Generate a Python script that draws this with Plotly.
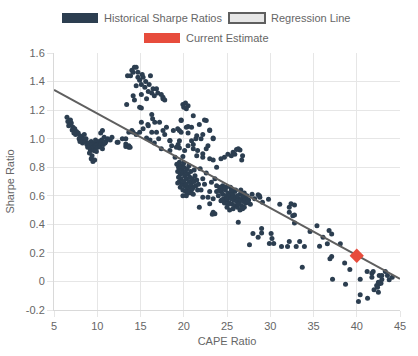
import plotly.graph_objects as go

# ---------------- data ----------------
left_x = [6.5, 6.6, 6.8, 6.7, 7.0, 7.2, 7.1, 7.4, 7.6, 7.5, 7.8, 8.0, 7.9, 8.2, 8.4, 8.3, 8.6, 8.8, 8.7, 8.9,
          9.0, 9.1, 9.2, 9.3, 9.4, 9.5, 9.6, 9.7, 9.8, 9.9, 10.0, 10.1, 10.2, 10.3, 10.4, 10.5, 10.7, 10.8, 11.0, 11.2,
          11.5, 10.4, 8.0, 9.3, 9.5, 9.7, 9.4, 9.1, 10.6, 12.4, 13.3, 13.65, 7.3, 8.5, 9.8, 10.9, 6.9,
          10.6, 11.7, 12.3, 13.3, 13.65, 14.0, 13.3, 13.65, 9.6, 9.8]
left_y = [1.15, 1.12, 1.10, 1.09, 1.11, 1.08, 1.06, 1.07, 1.05, 1.03, 1.04, 1.02, 1.00, 1.01, 0.99, 0.97, 0.98, 0.96, 1.00, 0.94,
          0.97, 0.95, 0.92, 0.98, 0.96, 0.94, 0.93, 0.97, 0.95, 0.91, 0.96, 0.94, 0.98, 0.95, 0.97, 0.99, 0.96, 1.01, 0.98, 1.00,
          0.99, 1.04, 0.98, 0.86, 0.84, 0.85, 0.88, 0.90, 0.93, 0.975, 0.945, 0.94, 1.04, 1.03, 0.99, 0.97, 1.13,
          1.057, 1.01, 0.975, 1.0, 1.045, 1.057, 0.963, 0.95, 0.917, 0.917]

top_x = [14.3, 14.5, 13.5, 13.85, 14.15, 14.7, 15.3, 16.15, 14.5, 15.1, 15.5, 16.45, 16.85, 16.3, 17.4, 17.6, 14.15, 14.3,
         15.1, 15.7, 13.4, 15.1, 17.6, 14.7, 14.9, 15.6, 15.9, 16.6, 17.0, 14.0, 14.9, 17.8, 16.0, 15.2,
         19.9, 20.2, 20.5, 20.3, 20.0, 21.1]
top_y = [1.50, 1.50, 1.44, 1.44, 1.465, 1.43, 1.43, 1.44, 1.37, 1.38, 1.36, 1.35, 1.35, 1.32, 1.31, 1.29, 1.30, 1.27,
         1.31, 1.28, 1.24, 1.215, 1.28, 1.465, 1.41, 1.40, 1.33, 1.30, 1.32, 1.48, 1.22, 1.27, 1.38, 1.45,
         1.24, 1.25, 1.23, 1.21, 1.22, 1.16]

mid_x = [15.1, 15.9, 16.65, 17.2, 15.3, 16.3, 16.85, 17.6, 18.0, 17.8, 18.8, 14.9, 14.15, 14.5, 15.7, 16.1, 13.8, 18.4,
         18.4, 18.6, 19.35, 19.5, 19.0, 19.9, 19.5, 20.1, 15.85, 16.4, 16.3, 12.9, 17.1, 16.6,
         19.5, 19.7, 20.5, 21.8, 22.6, 23.0, 23.4, 21.5, 22.0, 21.1, 21.6, 22.2, 23.0, 22.6, 22.4, 19.7, 19.3, 20.3,
         20.9, 23.0, 19.7, 20.5, 22.2, 23.4, 18.4, 19.5, 20.9, 19.15, 20.5, 21.1, 21.5, 22.2, 23.4, 24.7, 25.1, 25.7,
         26.1, 23.8, 19.85, 25.5, 25.9, 26.5, 26.8, 26.7, 26.3, 24.3, 21.4, 22.8, 17.4]
mid_y = [1.115, 1.09, 1.115, 1.115, 1.07, 1.045, 1.045, 1.057, 1.08, 1.03, 1.057, 1.045, 1.045, 1.03, 1.005, 0.99, 0.94, 0.987,
         0.917, 0.95, 0.96, 0.935, 0.87, 0.875, 0.835, 0.917, 1.10, 1.14, 1.17, 1.00, 1.00, 0.97,
         1.057, 1.127, 1.085, 1.10, 1.127, 1.057, 0.999, 1.02, 0.999, 0.96, 0.917, 0.894, 0.859, 0.929, 1.13, 1.13, 1.07, 1.08,
         1.08, 1.06, 1.045, 1.04, 1.03, 1.005, 0.985, 0.985, 0.985, 0.94, 0.95, 0.93, 0.88, 0.87, 0.85, 0.87, 0.89, 0.905,
         0.925, 0.80, 0.80, 0.88, 0.89, 0.92, 0.88, 0.85, 0.93, 0.86, 1.00, 0.95, 0.93]

clusterA_x = [19.2, 19.4, 19.3, 19.5, 19.6, 19.7, 19.8, 19.9, 20.0, 20.1, 20.2, 20.3, 20.4, 20.5, 20.6, 20.7, 20.8, 20.9,
              21.0, 21.1, 21.2, 21.3, 21.4, 21.5, 21.6, 21.7, 19.5, 19.6, 19.7, 19.8, 19.9, 20.0, 20.1, 20.2, 20.3, 20.4,
              20.5, 20.6, 20.7, 20.8, 20.9, 21.0, 21.1, 19.4, 19.3, 20.0, 20.6, 21.2, 19.9, 20.3]
clusterA_y = [0.82, 0.80, 0.77, 0.79, 0.75, 0.81, 0.78, 0.76, 0.80, 0.74, 0.77, 0.72, 0.79, 0.75, 0.70, 0.73, 0.77, 0.69,
              0.72, 0.66, 0.70, 0.74, 0.67, 0.71, 0.64, 0.68, 0.70, 0.66, 0.72, 0.68, 0.64, 0.70, 0.67, 0.63, 0.68, 0.65,
              0.62, 0.66, 0.63, 0.67, 0.62, 0.65, 0.61, 0.73, 0.69, 0.83, 0.81, 0.78, 0.60, 0.60]

lower_x = [21.8, 22.2, 22.8, 23.0, 23.4, 23.6, 23.4, 24.3, 23.2, 23.8, 22.4, 22.2, 23.6, 24.5, 24.1, 22.0, 22.6, 21.9, 23.0, 23.3]
lower_y = [0.52, 0.59, 0.59, 0.545, 0.485, 0.475, 0.58, 0.565, 0.695, 0.67, 0.68, 0.72, 0.72, 0.67, 0.64, 0.64, 0.76, 0.79, 0.63, 0.47]

clusterB_x = [24.3, 24.5, 24.6, 24.8, 24.9, 25.0, 25.1, 25.2, 25.3, 25.4, 25.5, 25.6, 25.7, 25.8, 25.9, 26.0, 26.1, 26.2,
              26.3, 26.4, 26.5, 26.6, 26.7, 26.8, 26.9, 27.0, 27.1, 27.2, 27.3, 27.5, 27.7, 24.7, 25.0, 25.3, 25.6, 25.9,
              26.2, 26.5, 26.8, 24.4, 24.9, 25.4, 26.0, 26.6, 27.0, 25.1, 25.7, 26.3, 26.9, 25.5, 24.6, 27.4, 23.8, 24.0,
              24.2, 26.3]
clusterB_y = [0.63, 0.61, 0.58, 0.64, 0.60, 0.57, 0.62, 0.59, 0.55, 0.61, 0.58, 0.54, 0.60, 0.57, 0.53, 0.59, 0.56, 0.52,
              0.58, 0.55, 0.61, 0.57, 0.53, 0.59, 0.56, 0.52, 0.58, 0.55, 0.60, 0.57, 0.54, 0.55, 0.52, 0.50, 0.62, 0.63,
              0.60, 0.50, 0.51, 0.57, 0.66, 0.66, 0.64, 0.64, 0.62, 0.54, 0.51, 0.54, 0.60, 0.64, 0.65, 0.56, 0.63, 0.60,
              0.66, 0.415]

right_x = [28.2, 28.75, 29.1, 29.8, 31.1, 32.2, 32.4, 32.8, 32.2, 32.6, 32.8, 32.8, 28.6, 28.8, 27.9,
           28.0, 28.6, 29.0, 29.0, 30.1, 30.2, 29.9, 30.4, 27.6, 31.3, 32.0, 32.2, 33.0, 33.4, 33.95, 34.6, 33.7, 35.4,
           36.8, 37.1, 36.1, 36.6, 38.1, 35.7, 37.1, 36.9, 38.6, 39.2, 37.2, 38.7, 40.4, 40.4, 40.2, 41.25, 42.0, 42.5,
           42.3, 42.6, 41.2, 41.75, 41.9, 41.75, 42.6, 42.9, 43.3, 43.55, 43.75, 44.1, 42.5, 42.8, 42.4, 42.9]
right_y = [0.58, 0.60, 0.555, 0.575, 0.54, 0.52, 0.545, 0.535, 0.485, 0.46, 0.465, 0.41, 0.607, 0.59, 0.61,
           0.335, 0.31, 0.37, 0.34, 0.335, 0.30, 0.265, 0.265, 0.257, 0.245, 0.245, 0.28, 0.245, 0.28, 0.245, 0.35, 0.10, 0.39,
           0.357, 0.333, 0.31, 0.264, 0.264, 0.247, 0.175, 0.159, 0.13, 0.084, 0.016, -0.019, 0.016, -0.093, -0.14, -0.117, -0.058, -0.075,
           -0.028, -0.016, 0.07, 0.058, 0.07, 0.03, 0.042, 0.042, 0.07, 0.042, 0.012, 0.03, -0.005, -0.012, -0.04, 0.014]

hist_cape = left_x + top_x + mid_x + clusterA_x + lower_x + clusterB_x + right_x
hist_sharpe = left_y + top_y + mid_y + clusterA_y + lower_y + clusterB_y + right_y

reg_cape = [5, 45]
reg_sharpe = [1.342, 0.018]

current_cape = [40]
current_sharpe = [0.18]

x_ticks = [5, 10, 15, 20, 25, 30, 35, 40, 45]
y_ticks = [-0.2, 0, 0.2, 0.4, 0.6, 0.8, 1.0, 1.2, 1.4, 1.6]
y_tick_labels = ["-0.2", "0", "0.2", "0.4", "0.6", "0.8", "1.0", "1.2", "1.4", "1.6"]

legend_labels = ["Historical Sharpe Ratios", "Regression Line", "Current Estimate"]

# ---------------- style ----------------
NAVY = "#2c3e50"
RED = "#e74c3c"
LINE = "#5f5f5f"
GRID = "#e6e6e6"
TXT = "#666666"
FONT = "Liberation Sans, Arial, sans-serif"
FS = 11

W, H = 418, 356
L, R, T, B = 54, 18, 53, 46
PW, PH = W - L - R, H - T - B

def px_x(p):
    return (p - L) / PW

def px_y(p):
    return (H - B - p) / PH

fig = go.Figure()
fig.add_trace(go.Scatter(x=hist_cape, y=hist_sharpe, mode="markers",
                         marker=dict(size=5, color=NAVY), name=legend_labels[0],
                         showlegend=False, hoverinfo="x+y"))
fig.add_trace(go.Scatter(x=reg_cape, y=reg_sharpe, mode="lines",
                         line=dict(color=LINE, width=2), name=legend_labels[1],
                         showlegend=False))
fig.add_trace(go.Scatter(x=current_cape, y=current_sharpe, mode="markers",
                         marker=dict(size=11, color=RED, symbol="diamond"), name=legend_labels[2],
                         showlegend=False))

# Chart.js-style legend boxes
shapes = []
annotations = []
legend_items = [
    (62, 13, NAVY, NAVY, 0, legend_labels[0]),
    (229, 13, "#e6e6e6", LINE, 2, legend_labels[1]),
    (144, 33, RED, RED, 0, legend_labels[2]),
]
for bx, by, fill, border, lw, label in legend_items:
    shapes.append(dict(type="rect", xref="paper", yref="paper",
                       x0=px_x(bx), x1=px_x(bx + 36), y0=px_y(by + 10), y1=px_y(by),
                       fillcolor=fill, line=dict(color=border, width=lw)))
    annotations.append(dict(text=label, xref="paper", yref="paper",
                            x=px_x(bx + 40), y=px_y(by + 5), xanchor="left", yanchor="middle",
                            showarrow=False, font=dict(family=FONT, size=FS, color=TXT)))

fig.update_layout(
    width=W, height=H,
    margin=dict(l=L, r=R, t=T, b=B, autoexpand=False),
    paper_bgcolor="white", plot_bgcolor="white",
    font=dict(family=FONT, size=FS, color=TXT),
    showlegend=False,
    shapes=shapes, annotations=annotations,
    xaxis=dict(range=[5, 45], tickvals=x_ticks, showgrid=True, gridcolor=GRID, gridwidth=1,
               zeroline=False, showline=True, linecolor="#d9d9d9", linewidth=1,
               ticks="outside", ticklen=6, tickcolor=GRID,
               tickfont=dict(family=FONT, size=FS, color=TXT),
               title=dict(text="CAPE Ratio", font=dict(family=FONT, size=FS, color=TXT), standoff=6),
               automargin=False),
    yaxis=dict(range=[-0.2, 1.6], tickvals=y_ticks, ticktext=y_tick_labels, showgrid=True,
               gridcolor=GRID, gridwidth=1, zeroline=False, showline=True, linecolor="#d9d9d9", linewidth=1,
               ticks="outside", ticklen=6, tickcolor=GRID,
               tickfont=dict(family=FONT, size=FS, color=TXT),
               title=dict(text="Sharpe Ratio", font=dict(family=FONT, size=FS, color=TXT), standoff=8),
               automargin=False),
)

fig.write_html("out.html", config={"displayModeBar": False},
               post_script="document.body.style.margin='0';document.body.style.padding='0';")
